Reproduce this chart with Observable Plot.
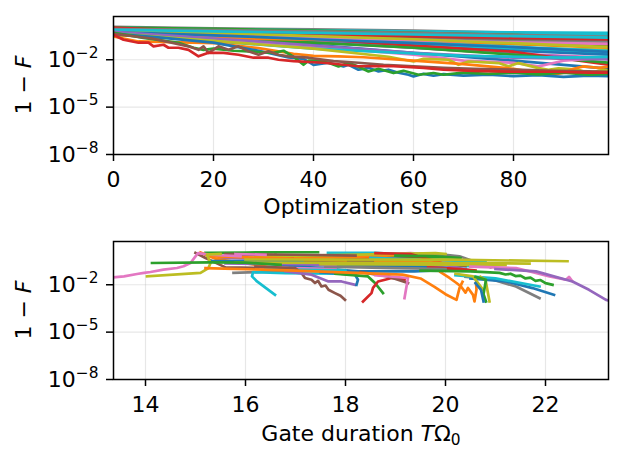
<!DOCTYPE html>
<html>
<head>
<meta charset="utf-8">
<script src="https://cdn.jsdelivr.net/npm/d3@7"></script>
<script src="https://cdn.jsdelivr.net/npm/@observablehq/plot@0.6"></script>
<style>
  body { margin: 0; background: #fff; }
  #fig { width: 624px; height: 464px; font-family: "DejaVu Sans", sans-serif; }
  #fig svg { display: block; }
</style>
</head>
<body>
<div id="fig"></div>
<script>
// Matplotlib default colour cycle
const tab10 = ["#1f77b4", "#ff7f0e", "#2ca02c", "#d62728", "#9467bd",
               "#8c564b", "#e377c2", "#7f7f7f", "#bcbd22", "#17becf"];

// Shared infidelity axis (log scale): tick values and their exponents
const yTicks = [1e-8, 1e-5, 1e-2];
const yTickExponents = ["−8", "−5", "−2"];

// ---- Panel 1: infidelity vs optimization step ----
const stepTicks = [0, 20, 40, 60, 80];

// Slowly converging runs, sampled at these steps; values are log10(1 − F)
const bandSteps = [0, 20, 40, 60, 80, 99];
const bandColors = [7, 9, 9, 5, 2, 6, 3, 4, 8, 0, 1, 2, 7, 8, 9, 0, 6, 4, 3, 0, 5, 2, 1, 9, 7, 3, 6, 8, 0, 9];
const bandLog = [
  [0.09, -0.01, -0.07, -0.16, -0.29, -0.48],
  [0.03, -0.07, -0.13, -0.20, -0.26, -0.29],
  [-0.10, -0.16, -0.23, -0.29, -0.35, -0.39],
  [-0.04, -0.16, -0.23, -0.35, -0.48, -0.61],
  [0.03, -0.04, -0.16, -0.29, -0.42, -0.67],
  [-0.10, -0.23, -0.35, -0.48, -0.61, -0.73],
  [0.03, -0.23, -0.48, -0.67, -0.80, -0.99],
  [-0.16, -0.29, -0.42, -0.54, -0.67, -0.80],
  [-0.23, -0.35, -0.48, -0.61, -0.80, -0.92],
  [-0.16, -0.35, -0.54, -0.73, -0.86, -1.05],
  [-0.23, -0.42, -0.61, -0.80, -0.92, -1.11],
  [-0.29, -0.48, -0.67, -0.86, -0.99, -1.18],
  [-0.16, -0.35, -0.48, -0.61, -0.73, -0.86],
  [-0.35, -0.54, -0.80, -1.05, -1.24, -1.37],
  [-0.29, -0.54, -0.80, -1.05, -1.30, -1.56],
  [-0.35, -0.61, -0.86, -1.18, -1.43, -1.68],
  [-0.35, -0.61, -0.92, -1.24, -1.62, -1.87],
  [-0.29, -0.54, -0.86, -1.24, -1.62, -1.94],
  [-0.04, -0.35, -0.67, -1.11, -1.49, -2.32],
  [-0.35, -0.67, -1.05, -1.56, -2.06, -2.57],
  [-0.10, -0.29, -0.42, -0.54, -0.67, -0.73],
  [-0.42, -0.67, -0.92, -1.24, -1.68, -2.19],
  [-0.42, -0.61, -0.73, -0.86, -0.99, -1.24],
  [-0.23, -0.42, -0.67, -0.92, -1.18, -1.43],
  [-0.05, -0.12, -0.20, -0.30, -0.42, -0.55],
  [-0.20, -0.30, -0.40, -0.50, -0.60, -0.70],
  [-0.30, -0.45, -0.60, -0.75, -0.90, -1.00],
  [-0.15, -0.30, -0.50, -0.70, -0.95, -1.20],
  [-0.25, -0.45, -0.70, -0.95, -1.20, -1.50],
  [-0.10, -0.20, -0.30, -0.40, -0.50, -0.60]
];

// Faster converging runs: [step, log10(1 − F)]
const pinkTrace = [[0,-0.29],[30,-0.92],[60,-1.68],[70,-2.06],[80,-2.19],[85,-2.42],[90,-2.06],[95,-1.94],[99,-1.91]];
const purpleTrace = [[0,-0.23],[30,-0.86],[60,-1.56],[80,-1.87],[99,-1.97]];
const cyanTrace = [[0,-0.35],[40,-1.30],[70,-1.75],[90,-1.87],[99,-1.81]];
const oliveTrace = [[0,-0.35],[20,-0.80],[40,-1.30],[55,-1.81],[60,-2.11],[62,-1.94],[67,-2.0],[69,-2.32],[71,-2.11],[77,-2.21],[79,-2.42],[81,-2.21],[85,-2.53],[87,-2.63],[89,-2.54],[93,-2.63],[95,-2.84],[98,-2.63],[99,-2.70]];
const orangeTrace = [[0,-0.53],[5,-0.84],[20,-0.94],[29,-1.26],[36,-1.62],[40,-1.75],[45,-1.78],[50,-1.84],[60,-2.06],[70,-2.28],[80,-2.57],[86,-2.89],[88,-2.95],[90,-2.82],[92,-2.57],[94,-2.42],[97,-2.51],[99,-2.44]];
const blueTrace = [[0,-0.35],[10,-0.61],[20,-0.91],[29,-1.43],[35,-1.85],[38,-1.94],[40,-2.32],[43,-2.19],[46,-2.42],[47,-2.32],[49,-2.63],[51,-2.51],[53,-2.74],[55,-2.63],[57,-2.82],[59,-2.95],[60,-3.06],[62,-2.89],[64,-3.01],[66,-2.91],[70,-3.01],[75,-2.95],[80,-3.04],[85,-2.98],[90,-3.08],[95,-3.01],[99,-3.04]];
const greenTrace = [[0,-0.29],[6,-0.61],[13,-0.92],[16,-1.24],[18,-1.37],[20,-1.30],[24,-1.43],[28,-1.49],[32,-1.56],[34,-1.43],[36,-1.81],[38,-2.32],[39,-2.06],[41,-2.06],[43,-2.19],[45,-2.42],[47,-2.19],[49,-2.44],[51,-2.74],[53,-2.57],[56,-2.84],[58,-2.70],[61,-2.95],[64,-2.84],[66,-2.95],[70,-2.82],[75,-2.89],[80,-2.82],[85,-2.92],[90,-2.82],[95,-2.95],[99,-2.89]];
const brownTrace = [[0,-0.35],[8,-0.67],[15,-1.15],[17,-1.37],[18,-1.15],[19,-1.56],[21,-1.15],[23,-1.37],[25,-1.15],[27,-1.46],[29,-1.68],[31,-1.46],[33,-1.68],[35,-1.78],[39,-1.87],[44,-2.09],[49,-2.19],[54,-2.32],[60,-2.41],[66,-2.51],[72,-2.57],[80,-2.63],[88,-2.70],[95,-2.73],[99,-2.76]];
const redTrace = [[0,-0.42],[2,-0.73],[5,-0.92],[7,-0.92],[8,-1.15],[10,-1.05],[11,-1.24],[13,-1.24],[15,-1.37],[17,-1.78],[19,-1.56],[22,-1.56],[25,-1.68],[28,-1.87],[31,-1.87],[33,-2.0],[36,-2.09],[42,-2.19],[49,-2.41],[56,-2.41],[62,-2.51],[66,-2.63],[72,-2.70],[80,-2.76],[88,-2.76],[95,-2.82],[99,-2.82]];

const stepTraces = [
  [6, pinkTrace], [4, purpleTrace], [9, cyanTrace], [8, oliveTrace],
  [1, orangeTrace], [0, blueTrace], [2, greenTrace], [5, brownTrace], [3, redTrace]
];

// ---- Panel 2: infidelity vs gate duration T·Ω0 ----
const durationTicks = [14, 16, 18, 20, 22];

// Runs that stay near the top: [colour index, [[TΩ0, log10(1 − F)], ...]]
const durationFlat = [
  [2, [[16.6,0.06],[17.45,0.06]]],
  [9, [[17.65,0.02],[18.6,0.02],[19.0,-0.05]]],
  [7, [[15.8,-0.1],[17.65,-0.2]]],
  [4, [[15.5,-0.3],[17.4,-0.41]]],
  [3, [[17.4,-0.35],[18.8,-0.41],[20.3,-1.05]]],
  [9, [[17.98,-0.62],[18.59,-0.62],[20.6,-0.83]]],
  [1, [[15.2,-0.1],[15.4,-0.35],[16.6,-0.94],[17.65,-0.94]]],
  [2, [[18.59,-0.1],[19.38,-0.28],[20.2,-0.25]]],
  [0, [[16.0,-0.55],[18.25,-1.15],[19.38,-1.15],[20.4,-1.0]]],
  [5, [[15.0,0.02],[15.2,-0.3],[15.6,-0.9],[16.7,-0.94]]],
  [7, [[15.76,-1.25],[16.69,-1.15],[17.5,-1.1]]],
  [3, [[16.7,-0.25],[17.6,-0.3],[19.5,-0.35]]],
  [6, [[17.0,-0.25],[17.3,-0.3],[19.3,0.0],[19.6,-0.05]]],
  [0, [[15.3,-0.5],[16.7,-0.5],[18.0,-0.55]]],
  [7, [[19.5,-0.05],[19.95,-0.09],[20.28,-0.2],[20.9,-0.9]]],
  [1, [[17.0,-0.3],[18.5,-0.2],[19.2,-0.1]]],
  [8, [[16.2,-0.25],[16.5,-0.2],[19.8,0.0],[20.0,-0.05]]],
  [5, [[17.2,-0.5],[19.4,-0.55],[20.4,-0.8]]],
  [4, [[18.0,-0.7],[20.0,-0.75],[20.5,-1.1]]],
  [9, [[18.5,-0.3],[19.9,-0.45],[20.8,-0.5]]],
  [3, [[19.6,-0.9],[20.3,-1.0],[20.6,-1.1]]],
  [2, [[15.2,0.02],[16.0,0.04],[16.6,0.06]]],
  [1, [[15.1,0.05],[15.3,-0.2],[16.5,-0.3],[18.0,-0.45]]],
  [3, [[18.6,0.0],[19.3,-0.05],[19.9,-0.6]]],
  [6, [[16.3,-0.9],[17.8,-1.0]]],
  [5, [[15.6,-0.05],[17.0,-0.1],[18.2,-0.15]]],
  [0, [[17.0,-0.75],[18.5,-0.8],[19.6,-0.85]]],
  [9, [[16.4,-1.0],[17.2,-1.05],[18.0,-1.1]]],
  [7, [[17.6,-0.85],[19.0,-0.95],[20.0,-1.0]]],
  [1, [[18.6,-0.5],[19.8,-0.6],[20.6,-0.7]]],
  [4, [[15.6,-0.65],[17.0,-0.7],[17.8,-0.75]]],
  [6, [[15.8,-0.05],[16.4,-0.1]]],
  [2, [[19.0,-0.15],[19.8,-0.2],[20.3,-0.3]]],
  [8, [[16.0,-0.4],[20.0,-0.41],[22.44,-0.51]]],
  [8, [[15.8,-0.6],[20.0,-0.62],[21.68,-0.66]]],
  [8, [[17.5,-0.7],[20.0,-0.72],[21.2,-0.75]]]
];

// Runs that descend towards ~1e-3
const durationFalling = [
  [6, [[13.30,-1.54],[13.57,-1.47],[13.83,-1.32],[13.97,-1.25],[14.10,-1.19],[14.36,-1.04],[14.63,-0.94],[14.76,-0.83],[14.90,-0.62],[15.00,-0.2],[15.05,0.0],[15.3,-0.1],[15.9,-0.2]]],
  [8, [[14.03,-1.47],[15.10,-1.25],[15.26,-0.94],[15.30,-0.62],[15.23,-0.09],[15.5,-0.05]]],
  [2, [[14.13,-0.62],[15.30,-0.58],[16.0,-0.6],[16.7,-0.73]]],
  [9, [[17.8,-1.3],[16.8,-1.27],[16.15,-1.2],[16.13,-1.47],[16.23,-1.79],[16.59,-2.64]]],
  [5, [[16.2,-0.85],[16.99,-0.94],[17.12,-1.25],[17.19,-1.57],[17.32,-1.68],[17.39,-1.89],[17.45,-1.75],[17.52,-2.11],[17.6,-2.05],[17.66,-2.32],[17.79,-2.53],[17.9,-2.7],[17.99,-2.96]]],
  [4, [[16.8,-1.15],[17.32,-1.36],[17.66,-1.79],[17.92,-1.79],[18.19,-2.0]]],
  [0, [[17.5,-1.2],[18.19,-1.36],[18.25,-1.68],[18.22,-2.0]]],
  [2, [[17.8,-1.3],[18.45,-1.47],[18.59,-1.89],[18.75,-2.53]]],
  [3, [[18.35,-3.06],[18.52,-2.53],[18.55,-2.2],[18.65,-1.79],[18.79,-1.68],[18.92,-1.57],[19.18,-1.68]]],
  [5, [[18.3,-1.2],[18.85,-1.47],[19.25,-1.89]]],
  [6, [[18.6,-1.4],[19.25,-1.57],[19.22,-2.11],[19.18,-2.85]]],
  [1, [[15.2,-0.95],[17.0,-1.1],[19.14,-1.36],[19.5,-1.6],[19.78,-2.13],[20.0,-2.6],[20.22,-2.96],[20.28,-2.21],[20.34,-1.81]]],
  [1, [[19.9,-1.2],[20.08,-1.57],[20.22,-1.89],[20.31,-2.11],[20.4,-2.5],[20.45,-2.2],[20.55,-2.64],[20.58,-3.06],[20.62,-2.3],[20.61,-1.89]]],
  [2, [[19.5,-1.1],[20.5,-1.15],[21.08,-1.25],[21.2,-1.35],[21.3,-1.3],[21.4,-1.45],[21.5,-1.42],[21.6,-1.6],[21.7,-1.55],[21.8,-1.75],[21.9,-1.7],[22.0,-1.9],[22.14,-2.0]]],
  [6, [[20.5,-0.85],[21.41,-0.94],[22.08,-1.47],[22.41,-1.68],[22.47,-1.5],[22.54,-1.79]]],
  [4, [[21.0,-1.0],[21.81,-1.15],[22.54,-1.79],[22.87,-2.32],[23.21,-2.96],[23.4,-3.1]]],
  [7, [[20.4,-1.5],[20.95,-1.68],[21.41,-2.11],[21.88,-2.85]]],
  [0, [[20.5,-1.6],[21.21,-1.79],[21.74,-2.21],[22.17,-2.64]]],
  [9, [[20.2,-1.4],[21.0,-1.6],[21.88,-2.11]]],
  [8, [[20.2,-1.3],[20.55,-1.47],[20.75,-2.32]]],
  [8, [[20.7,-1.5],[20.8,-1.68],[20.88,-3.06]]],
  [2, [[20.6,-1.5],[20.81,-1.68],[20.76,-2.6],[20.81,-3.06]]],
  [0, [[20.6,-1.9],[20.71,-2.32],[20.76,-3.06]]]
];

// ---- drawing ----
const FONT = 22;
const lineStyle = {strokeWidth: 2.7, strokeLinejoin: "round", strokeLinecap: "square", clip: true};

function traceMark(colorIndex, pts) {
  return Plot.line(pts, {x: d => d[0], y: d => 10 ** d[1], stroke: tab10[colorIndex], ...lineStyle});
}

function panel({xDomain, xTicks, marginTop, marginBottom, lines}) {
  const gridStyle = {stroke: "#b0b0b0", strokeOpacity: 0.3, strokeWidth: 1.2};
  const chart = Plot.plot({
    width: 624,
    height: 232,
    marginLeft: 113,
    marginRight: 16,
    marginTop,
    marginBottom,
    style: {fontFamily: "DejaVu Sans, sans-serif", fontSize: `${FONT}px`, color: "#000", background: "#fff", overflow: "visible"},
    x: {domain: xDomain, label: null},
    y: {type: "log", domain: [1e-8, 5.5], label: null},
    marks: [
      Plot.gridX(xTicks, gridStyle),
      Plot.gridY(yTicks, gridStyle),
      ...lines,
      Plot.frame({stroke: "#000", strokeWidth: 1.5}),
      Plot.axisX(xTicks, {tickSize: 7, tickPadding: 10, strokeWidth: 1.5, fontSize: FONT, label: null, tickFormat: d => String(d)}),
      Plot.axisY(yTicks, {tickSize: 7, tickPadding: 8, strokeWidth: 1.5, fontSize: FONT, label: null, tickFormat: d => yTickExponents[yTicks.indexOf(d)]})
    ]
  });
  // y tick labels as 10 with a raised exponent
  d3.select(chart).selectAll('g[aria-label="y-axis tick label"] text').each(function () {
    const exp = this.textContent;
    const t = d3.select(this).text("10");
    t.append("tspan").attr("font-size", FONT * 0.7).attr("dy", -FONT * 0.4).text(exp);
  });
  return chart;
}

function addYLabel(svg, cy) {
  const t = svg.append("text")
    .attr("transform", `translate(23.5,${cy}) rotate(-90)`)
    .attr("text-anchor", "middle")
    .attr("dy", "0.36em")
    .attr("font-size", FONT)
    .attr("fill", "#000");
  t.append("tspan").text("1 − ");
  t.append("tspan").attr("font-style", "italic").text("F");
}

const stepLines = [
  ...bandLog.map((row, i) => traceMark(bandColors[i], row.map((v, j) => [bandSteps[j], v]))),
  ...stepTraces.map(([c, pts]) => traceMark(c, pts))
];

const stepPanel = panel({xDomain: [0, 99], xTicks: stepTicks, marginTop: 16, marginBottom: 78, lines: stepLines});
const stepSvg = d3.select(stepPanel);
addYLabel(stepSvg, 85);
stepSvg.append("text")
  .attr("x", 361).attr("y", 214)
  .attr("text-anchor", "middle").attr("font-size", FONT).attr("fill", "#000")
  .text("Optimization step");

const durationLines = [
  ...durationFlat.map(([c, pts]) => traceMark(c, pts)),
  ...durationFalling.map(([c, pts]) => traceMark(c, pts))
];

const durationPanel = panel({xDomain: [13.36, 23.26], xTicks: durationTicks, marginTop: 9, marginBottom: 85, lines: durationLines});
const durationSvg = d3.select(durationPanel);
addYLabel(durationSvg, 78);
const xl = durationSvg.append("text")
  .attr("x", 361).attr("y", 209)
  .attr("text-anchor", "middle").attr("font-size", FONT).attr("fill", "#000");
xl.append("tspan").text("Gate duration ");
xl.append("tspan").attr("font-style", "italic").text("T");
xl.append("tspan").text("Ω");
xl.append("tspan").attr("font-size", FONT * 0.7).attr("dy", 4).text("0");

document.getElementById("fig").append(stepPanel, durationPanel);
</script>
</body>
</html>
